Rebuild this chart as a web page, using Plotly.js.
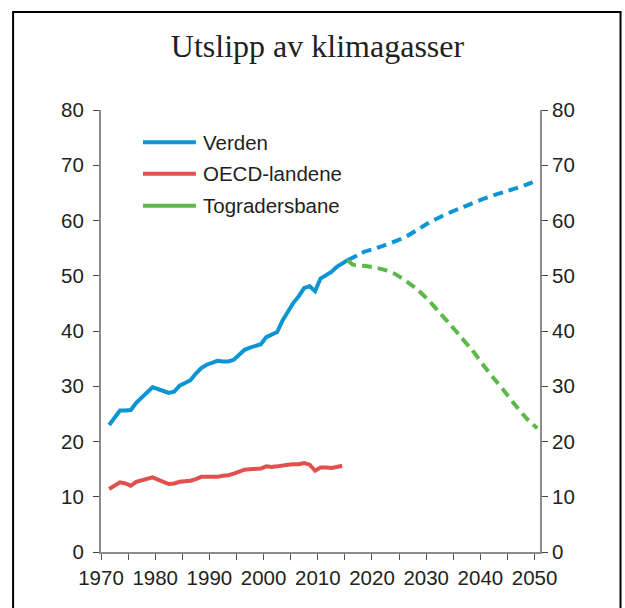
<!DOCTYPE html>
<html>
<head>
<meta charset="utf-8">
<script src="https://cdn.plot.ly/plotly-3.0.1.min.js"></script>
<style>html,body{margin:0;padding:0;background:#fff;}#chart{width:625px;height:608px;}</style>
</head>
<body>
<div id="chart"></div>
<script>
// ---- data ----
var histYears = [1971,1972,1973,1974,1975,1976,1977,1978,1979,1980,1981,1982,1983,1984,1985,1986,1987,1988,1989,1990,1991,1992,1993,1994,1995,1996,1997,1998,1999,2000,2001,2002,2003,2004,2005,2006,2007,2008,2009,2010,2011,2012,2013,2014,2015];
var verden = [23.0,24.3,25.6,25.6,25.7,27.0,28.0,28.9,29.8,29.5,29.1,28.8,29.0,30.1,30.6,31.1,32.3,33.3,33.9,34.3,34.6,34.5,34.5,34.8,35.6,36.6,37.0,37.3,37.6,38.9,39.3,39.8,41.9,43.6,45.1,46.3,47.8,48.1,47.2,49.5,50.1,50.7,51.6,52.2,52.8];
var oecdYears = [1971,1972,1973,1974,1975,1976,1977,1978,1979,1980,1981,1982,1983,1984,1985,1986,1987,1988,1989,1990,1991,1992,1993,1994,1995,1996,1997,1998,1999,2000,2001,2002,2003,2004,2005,2006,2007,2008,2009,2010,2011,2012,2013,2014];
var oecd = [11.4,12.0,12.6,12.4,12.0,12.7,13.0,13.2,13.5,13.1,12.7,12.3,12.4,12.7,12.8,12.9,13.2,13.6,13.6,13.6,13.6,13.8,13.9,14.2,14.5,14.9,15.0,15.0,15.1,15.5,15.4,15.5,15.7,15.8,15.9,15.9,16.1,15.8,14.7,15.3,15.3,15.2,15.4,15.6];
var projYears = [2015,2017,2018,2020,2022,2024,2026,2028,2030,2032,2034,2036,2038,2040,2042,2044,2046,2048,2050];
var verdenProj = [52.8,53.8,54.3,54.9,55.6,56.3,57.2,58.4,59.6,60.6,61.5,62.3,63.1,63.9,64.6,65.2,65.8,66.5,67.3];
var toGradYears = [2015,2016,2018,2020,2022,2024,2026,2028,2030,2032,2034,2036,2038,2040,2042,2044,2046,2048,2050];
var toGrad = [52.8,52.0,51.8,51.5,51.0,50.2,48.9,47.4,45.5,43.3,41.1,38.8,36.5,33.9,31.4,29.0,26.5,24.2,22.4];
var xTickYears = [1970,1975,1980,1985,1990,1995,2000,2005,2010,2015,2020,2025,2030,2035,2040,2045,2050];
var xTickLabels = ['1970','','1980','','1990','','2000','','2010','','2020','','2030','','2040','','2050'];
var seriesNames = ['Verden','OECD-landene','Togradersbane'];
var titleText = 'Utslipp av klimagasser';

// ---- style ----
var cBlue = '#0b95d3', cRed = '#e2504e', cGreen = '#5bb947';
var txt = '#231f20';
var tickFont = {family: 'Liberation Sans, Arial, sans-serif', size: 20.5, color: txt};

var traces = [
  {x: histYears, y: verden, mode: 'lines', name: seriesNames[0], line: {color: cBlue, width: 4}, showlegend: false},
  {x: projYears, y: verdenProj, mode: 'lines', name: seriesNames[0] + ' (framskriving)', line: {color: cBlue, width: 4, dash: '10px,6px', shape: 'spline', smoothing: 0.5}, showlegend: false},
  {x: oecdYears, y: oecd, mode: 'lines', name: seriesNames[1], line: {color: cRed, width: 4}, showlegend: false},
  {x: toGradYears, y: toGrad, mode: 'lines', name: seriesNames[2], line: {color: cGreen, width: 4, dash: '10px,6px', shape: 'spline', smoothing: 0.5}, showlegend: false},
  {x: [], y: [], yaxis: 'y2', mode: 'lines', showlegend: false, hoverinfo: 'skip'}
];

var W = 439.4, H = 441.6, L = 101, T = 110.4;
function px(X) { return (X - L) / W; }
function py(Y) { return (T + H - Y) / H; }

var legendColors = [cBlue, cRed, cGreen];
var legendY = [142.7, 174, 206];
var shapes = [
  {type: 'rect', xref: 'paper', yref: 'paper', x0: px(13), x1: px(621), y0: py(700), y1: py(12.5), line: {color: '#000', width: 2}, layer: 'below'}
];
var annotations = [];
for (var i = 0; i < 3; i++) {
  shapes.push({type: 'line', xref: 'paper', yref: 'paper', x0: px(143), x1: px(196), y0: py(legendY[i]), y1: py(legendY[i]), line: {color: legendColors[i], width: 4}});
  annotations.push({xref: 'paper', yref: 'paper', x: px(201), y: py(legendY[i]), xanchor: 'left', yanchor: 'middle', showarrow: false, text: seriesNames[i], font: {family: 'Liberation Sans, Arial, sans-serif', size: 20.5, color: txt}});
}

var yCommon = {range: [0, 80], tick0: 0, dtick: 10, ticks: 'outside', ticklen: 6, tickwidth: 1, tickcolor: '#444',
  showline: true, linecolor: '#8c8c8c', linewidth: 2, showgrid: false, zeroline: false, tickfont: tickFont, fixedrange: true};

var layout = {
  width: 625, height: 608,
  margin: {l: L, r: 625 - L - W, t: T, b: 608 - T - H, pad: 0},
  paper_bgcolor: '#fff', plot_bgcolor: '#fff',
  showlegend: false,
  title: {text: titleText, font: {family: 'Liberation Serif, Times New Roman, serif', size: 32, color: txt},
    xref: 'container', x: 317.5 / 625, xanchor: 'center', yref: 'container', y: 1 - 46 / 608, yanchor: 'middle'},
  xaxis: {range: [1969.5, 2050.5], tickmode: 'array',
    tickvals: xTickYears.map(function (y) { return y - 0.5; }), ticktext: xTickLabels,
    ticklabelshift: 2.7, ticklabelstandoff: 0,
    ticks: 'outside', ticklen: 6, tickwidth: 1, tickcolor: '#555',
    showline: true, linecolor: '#8c8c8c', linewidth: 2, showgrid: false, zeroline: false, tickfont: tickFont, fixedrange: true},
  yaxis: Object.assign({}, yCommon, {side: 'left', ticklabelstandoff: 5}),
  yaxis2: Object.assign({}, yCommon, {side: 'right', overlaying: 'y', anchor: 'x', ticklabelstandoff: 0}),
  shapes: shapes,
  annotations: annotations
};

Plotly.newPlot('chart', traces, layout, {staticPlot: true, displayModeBar: false});
</script>
</body>
</html>
